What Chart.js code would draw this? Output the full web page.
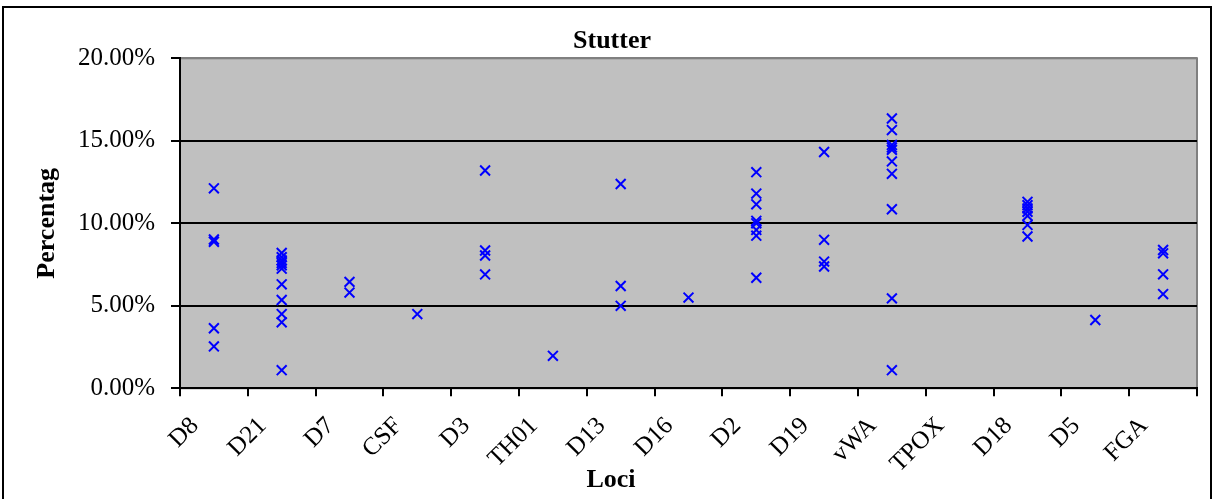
<!DOCTYPE html>
<html>
<head>
<meta charset="utf-8">
<script src="https://cdn.jsdelivr.net/npm/chart.js@4/dist/chart.umd.min.js"></script>
<style>
    html, body { margin: 0; padding: 0; background: #fff; }
    #wrap { width: 1214px; height: 499px; position: relative; }
</style>
</head>
<body>
<div id="wrap"><canvas id="stutterChart"></canvas></div>
<script>
// Loci on the x axis, stutter percentages per locus
const loci = ['D8', 'D21', 'D7', 'CSF', 'D3', 'TH01', 'D13', 'D16', 'D2', 'D19', 'vWA', 'TPOX', 'D18', 'D5', 'FGA'];

const d8 = [12.12, 9.02, 8.88, 3.64, 2.54];
const d21 = [8.2, 7.95, 7.75, 7.6, 7.45, 7.25, 6.3, 5.35, 4.5, 4.0, 1.1];
const d7 = [6.45, 5.8];
const csf = [4.5];
const d3 = [13.2, 8.35, 8.05, 6.9];
const th01 = [1.97];
const d13 = [12.38, 6.2, 5.0];
const d16 = [5.5];
const d2 = [13.1, 11.8, 11.15, 10.15, 10.0, 9.6, 9.25, 6.7];
const d19 = [14.32, 9.0, 7.68, 7.38];
const vwa = [16.35, 15.65, 14.75, 14.6, 14.45, 13.75, 13.0, 10.85, 5.45, 1.1];
const tpox = [];
const d18 = [11.3, 11.1, 10.9, 10.7, 10.45, 9.9, 9.2];
const d5 = [4.14];
const fga = [8.38, 8.18, 6.91, 5.71];

const valuesByLocus = [d8, d21, d7, csf, d3, th01, d13, d16, d2, d19, vwa, tpox, d18, d5, fga];

const yTicks = [0, 5, 10, 15, 20];

const serif = "'Liberation Serif', 'Times New Roman', serif";

// flatten into {x: locus, y: value} points
const points = [];
valuesByLocus.forEach((vals, i) => {
    vals.forEach(v => points.push({ x: loci[i], y: v }));
});

// grey plot area + grey frame, outer chart border, x axis title
// (the x title sits centred on the whole frame, not on the plot, so it is drawn here)
const plotBackground = {
    id: 'plotBackground',
    beforeDraw(chart) {
        const { ctx, chartArea: a } = chart;
        ctx.save();
        ctx.fillStyle = '#c0c0c0';
        ctx.fillRect(a.left, a.top, a.right - a.left, a.bottom - a.top);
        ctx.strokeStyle = '#808080';
        ctx.lineWidth = 2;
        ctx.strokeRect(a.left, a.top, a.right - a.left, a.bottom - a.top);
        ctx.restore();
    },
    afterDraw(chart) {
        const ctx = chart.ctx;
        ctx.save();
        ctx.strokeStyle = '#000';
        ctx.lineWidth = 2;
        ctx.strokeRect(3, 7, 1208, 600);
        ctx.fillStyle = '#000';
        ctx.font = 'bold 26px ' + serif;
        ctx.textAlign = 'center';
        ctx.textBaseline = 'alphabetic';
        ctx.fillText('Loci', 611, 487);
        ctx.restore();
    }
};

new Chart(document.getElementById('stutterChart'), {
    type: 'line',
    data: {
        labels: loci,
        datasets: [{
            label: 'Stutter',
            data: points,
            showLine: false,
            pointStyle: 'crossRot',
            pointRadius: 7,
            pointHoverRadius: 7,
            borderColor: '#0000ff',
            backgroundColor: '#0000ff',
            pointBorderWidth: 2
        }]
    },
    options: {
        responsive: true,
        maintainAspectRatio: false,
        animation: false,
        // left padding keeps the title centred on the whole frame like the original
        layout: { padding: { left: 27, right: 17, top: 0, bottom: 0 } },
        plugins: {
            legend: { display: false },
            tooltip: { enabled: false },
            title: {
                display: true,
                text: 'Stutter',
                color: '#000',
                font: { family: serif, size: 26, weight: 'bold', lineHeight: 1.2 },
                padding: { top: 26, bottom: 1.1 }
            }
        },
        scales: {
            x: {
                type: 'category',
                offset: true,
                grid: {
                    offset: true,
                    drawOnChartArea: false,
                    drawTicks: true,
                    tickLength: 8,
                    color: '#000',
                    lineWidth: 2
                },
                border: { display: true, color: '#000', width: 2 },
                ticks: {
                    color: '#000',
                    font: { family: serif, size: 25 },
                    minRotation: 45,
                    maxRotation: 45,
                    autoSkip: false,
                    labelOffset: -19,
                    padding: 15
                },
                afterFit(scale) { scale.height = 110.7; }
            },
            y: {
                min: 0,
                max: 20,
                afterBuildTicks(scale) { scale.ticks = yTicks.map(v => ({ value: v })); },
                grid: {
                    color: ctx => (ctx.tick && ctx.tick.value === 20 ? '#808080' : '#000'),
                    tickColor: '#000',
                    lineWidth: 2,
                    drawTicks: true,
                    tickLength: 9
                },
                border: { display: true, color: '#000', width: 2 },
                ticks: {
                    color: '#000',
                    font: { family: serif, size: 25 },
                    padding: 16,
                    callback: v => v.toFixed(2) + '%'
                },
                title: {
                    display: true,
                    text: 'Percentag',
                    color: '#000',
                    font: { family: serif, size: 26, weight: 'bold', lineHeight: 1.2 },
                    padding: { top: 5, bottom: 0 }
                },
                afterFit(scale) { scale.width = 153; }
            }
        }
    },
    plugins: [plotBackground]
});
</script>
</body>
</html>
